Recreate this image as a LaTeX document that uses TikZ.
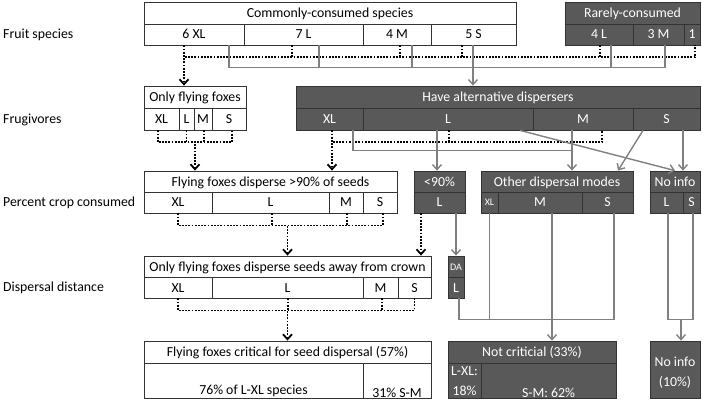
\documentclass[tikz,border=0pt]{standalone}
\usepackage{fontspec}
\setmainfont{Carlito}
\usepackage{tikz}
\usetikzlibrary{arrows.meta}

\begin{document}
\begin{tikzpicture}[x=1pt,y=-1pt,
  font=\fontsize{13.8}{16}\selectfont,
  span/.style args={#1/#2/#3/#4}{at={({(#1+#3)/2},{(#2+#4)/2})}, anchor=center,
    minimum width={(#3-#1)*1pt}, minimum height={(#4-#2)*1pt}},
  cell/.style={inner sep=0pt, line width=0.8pt, text height=12pt, text depth=3pt},
  wbox/.style={cell, draw=black!80, fill=white},
  dbox/.style={cell, draw=black!80, fill=black!65, text=white},
  tiny/.style={font=\fontsize{10}{12}\selectfont, text height=9pt, text depth=2pt},
  rowlab/.style={anchor=west, inner sep=0pt, text height=12pt, text depth=3pt},
  twoline/.style={align=center, text=white, font=\fontsize{13.8}{20}\selectfont},
  dotline/.style={line width=1.8pt, dash pattern=on 1.8pt off 1.4pt},
  dotto/.style={dotline, -{Straight Barb[length=5pt,width=9pt]}},
  dotfrom/.style={dotline, {Straight Barb[length=5pt,width=9pt]}-},
  grayline/.style={black!50, line width=1.4pt},
  grayto/.style={grayline, -{Straight Barb[length=5pt,width=9pt]}},
  grayfrom/.style={grayline, {Straight Barb[length=5pt,width=9pt]}-}]
  \useasboundingbox (0,0) rectangle (702,401);

  \node[rowlab] (lfruit) at (3,34.5) {Fruit species};
  \node[rowlab] (lfrug) at (3,119) {Frugivores};
  \node[rowlab] (lcrop) at (3,202) {Percent crop consumed};
  \node[rowlab] (ldist) at (3,287) {Dispersal distance};

  % fruit species
  \node[wbox, span=144/2/516/24] (common) {Commonly-consumed species};
  \node[wbox, span=144/24/244/45] (c6xl) {6 XL};
  \node[wbox, span=244/24/363/45] (c7l) {7 L};
  \node[wbox, span=363/24/431/45] (c4m) {4 M};
  \node[wbox, span=431/24/516/45] (c5s) {5 S};
  \node[dbox, span=565/2/700/24] (rare) {Rarely-consumed};
  \node[dbox, span=565/24/633/45] (r4l) {4 L};
  \node[dbox, span=633/24/684/45] (r3m) {3 M};
  \node[dbox, span=684/24/700/45] (r1) {1};

  % frugivores
  \node[wbox, span=144/86/246/108] (onlyff) {Only flying foxes};
  \node[wbox, span=144/108/179/130] (o-xl) {XL};
  \node[wbox, span=179/108/194/130] (o-l) {L};
  \node[wbox, span=194/108/212/130] (o-m) {M};
  \node[wbox, span=212/108/246/130] (o-s) {S};
  \node[dbox, span=296/86/700/108] (alt) {Have alternative dispersers};
  \node[dbox, span=296/108/363/130] (a-xl) {XL};
  \node[dbox, span=363/108/533/130] (a-l) {L};
  \node[dbox, span=533/108/633/130] (a-m) {M};
  \node[dbox, span=633/108/700/130] (a-s) {S};

  % percent crop consumed
  \node[wbox, span=144/171/397/192] (ff90) {Flying foxes disperse >90\% of seeds};
  \node[wbox, span=144/192/212/213] (f-xl) {XL};
  \node[wbox, span=212/192/329/213] (f-l) {L};
  \node[wbox, span=329/192/363/213] (f-m) {M};
  \node[wbox, span=363/192/397/213] (f-s) {S};
  \node[dbox, span=414/171/465/192] (lt90) {<90\%};
  \node[dbox, span=414/192/465/213] (lt-l) {L};
  \node[dbox, span=481/171/633/192] (other) {Other dispersal modes};
  \node[dbox, tiny, span=481/192/498/213] (ot-xl) {XL};
  \node[dbox, span=498/192/582/213] (ot-m) {M};
  \node[dbox, span=582/192/633/213] (ot-s) {S};
  \node[dbox, span=650/171/700/192] (noinfo) {No info};
  \node[dbox, span=650/192/683/213] (ni-l) {L};
  \node[dbox, span=683/192/700/213] (ni-s) {S};

  % dispersal distance
  \node[wbox, span=144/256/431/277] (away) {Only flying foxes disperse seeds away from crown};
  \node[wbox, span=144/277/212/298] (w-xl) {XL};
  \node[wbox, span=212/277/363/298] (w-l) {L};
  \node[wbox, span=363/277/398/298] (w-m) {M};
  \node[wbox, span=398/277/431/298] (w-s) {S};
  \node[dbox, tiny, span=448/256/464/277] (da) {DA};
  \node[dbox, span=448/277/464/298] (da-l) {L};

  % outcome
  \node[wbox, span=144/341/431/363] (crit) {Flying foxes critical for seed dispersal (57\%)};
  \node[wbox, span=144/363/363/398, label={[anchor=south,inner sep=1pt]south:{76\% of L-XL species}}] (cr-l) {};
  \node[wbox, span=363/363/431/398, label={[anchor=south,inner sep=1pt]south:{31\% S-M}}] (cr-s) {};
  \node[dbox, span=448/341/616/363] (notc) {Not criticial (33\%)};
  \node[dbox, span=448/363/481/398] (nc-l) {};
  \node[twoline] (nc-ltxt) at ([yshift=-1]nc-l) {L-XL:\\18\%};
  \node[dbox, span=481/363/616/398, label={[anchor=south,inner sep=1pt,text=white]south:{S-M: 62\%}}] (nc-s) {};
  \node[dbox, span=650/341/700/398] (ni10) {};
  \node[twoline] (ni10txt) at ([yshift=-3]ni10) {No info\\(10\%)};

  % fruit species -> frugivores
  \draw[dotline] ([xshift=-10]c6xl.south) -- ++(0,12) -| ([xshift=3]r1.south);
  \foreach \c/\s in {c7l/-11.5, c4m/3, c5s/-11.5, r4l/1}
    \draw[dotline] ([xshift=\s]\c.south) -- ++(0,12);
  \draw[dotto] ([xshift=-10]c6xl.south) -- ([xshift=-11]onlyff.north);
  \draw[grayline] ([xshift=35]c6xl.south) -- ++(0,22) -| ([xshift=6.5]r3m.south);
  \foreach \c/\s in {c7l/15.5, c4m/15, r4l/12}
    \draw[grayline] ([xshift=\s]\c.south) -- ++(0,22);
  \draw[grayto] ([xshift=-0.5]c5s.south) -- ([xshift=-25]alt.north);

  % frugivores -> percent crop consumed
  \draw[dotline] ([xshift=-3.5]o-xl.south) -- ++(0,12) -| ([xshift=3]o-s.south);
  \foreach \c/\s in {o-l/0, o-m/1}
    \draw[dotline] ([xshift=\s]\c.south) -- ++(0,12);
  \draw[dotfrom] ([xshift=-75.5]ff90.north) -- ++(0,-29);
  \draw[dotline] ([xshift=2.5]a-xl.south) -- ++(0,12) -| ([xshift=19]a-m.south);
  \draw[dotline] ([xshift=1]a-l.south) -- ++(0,12);
  \draw[dotto] ([xshift=2.5]a-xl.south) -- ([xshift=61.5]ff90.north);
  \draw[grayline] ([xshift=23.5]a-xl.south) -- ++(0,20) -| ([xshift=-11]a-m.south);
  \draw[grayto] ([xshift=-11]a-m.south) -- ([xshift=15]other.north);
  \draw[grayto] ([xshift=-11]a-l.south) -- ([xshift=-2.5]lt90.north);
  \draw[grayto] ([xshift=72]a-l.south) -- (noinfo.north);
  \draw[grayto] ([xshift=-23.5]a-s.south) -- ([xshift=61]other.north);
  \draw[grayto] ([xshift=16.5]a-s.south) -- ([xshift=8]noinfo.north);

  % percent crop consumed -> dispersal distance
  \draw[dotline] (f-xl.south) -- ++(0,12) -| ([xshift=3]f-s.south);
  \foreach \c/\s in {f-l/1.5, f-m/1}
    \draw[dotline] ([xshift=\s]\c.south) -- ++(0,12);
  \draw[dotfrom] (away.north) -- ++(0,-31);
  \draw[dotto] ([xshift=-18.5]lt-l.south) -- ([xshift=133.5]away.north);
  \draw[grayto] ([xshift=16.5]lt-l.south) -- (da.north);

  % -> outcome
  \draw[dotline] (w-xl.south) -- ++(0,12) -| (w-s.south);
  \foreach \c/\s in {w-l/0.5, w-m/1.5}
    \draw[dotline] ([xshift=\s]\c.south) -- ++(0,12);
  \draw[dotfrom] (crit.north) -- ++(0,-31);
  \draw[grayline] ([xshift=3]da-l.south) -- ++(0,21) -| ([xshift=6.5]ot-s.south);
  \draw[grayline] (ot-xl.south) -- ++(0,106);
  \draw[grayto] ([xshift=12]ot-m.south) -- ([xshift=20]notc.north);
  \draw[grayline] ([xshift=1.5]ni-l.south) -- ++(0,106) -| ([xshift=1.5]ni-s.south);
  \draw[grayfrom] ([xshift=6]ni10.north) -- ++(0,-22);
\end{tikzpicture}
\end{document}
